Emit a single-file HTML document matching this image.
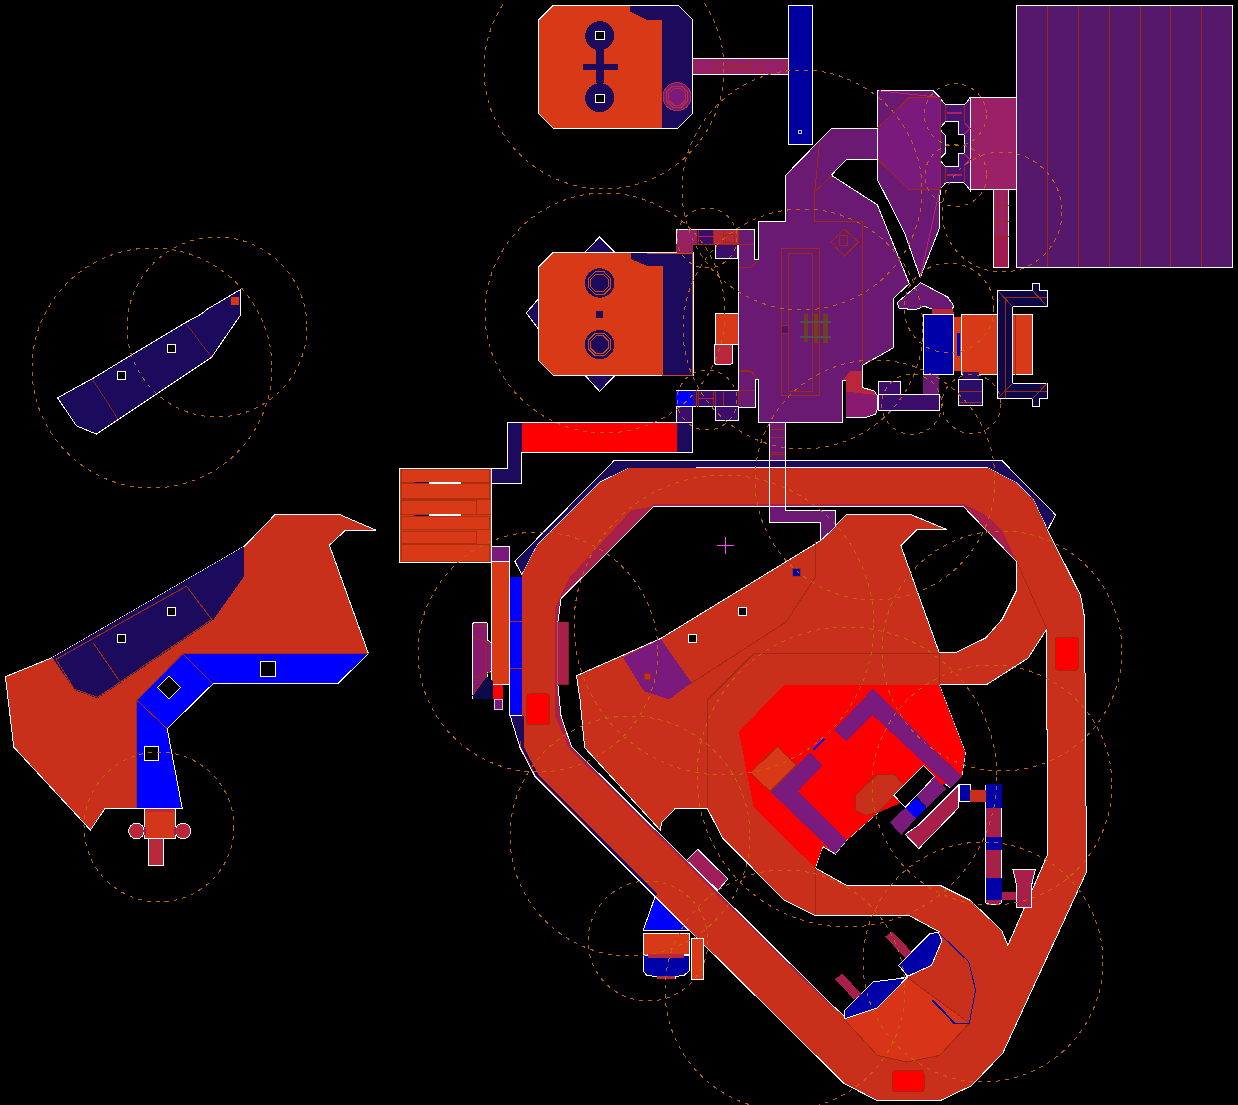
<!DOCTYPE html>
<html><head><meta charset="utf-8">
<style>
html,body{margin:0;padding:0;background:#000;width:1238px;height:1105px;overflow:hidden}
svg{display:block}
</style></head>
<body>
<svg width="1238" height="1105" viewBox="0 0 1238 1105" shape-rendering="crispEdges">
<rect width="1238" height="1105" fill="#000"/>
<!-- ===== LEFT TOP NAVY ===== -->
<g id="lefttop">
<polygon points="57.6,397.8 92.6,378.5 185.3,322.7 200.3,314.6 207.8,308.9 240.4,289.6 240.4,315.2 211.6,357.2 96.4,434.1 76.4,425.8" fill="#1c0b5c" stroke="#fff" stroke-width="1"/>
<line x1="92.6" y1="378.5" x2="118.6" y2="419" stroke="#a02a10" stroke-width="0.8"/>
<line x1="185.3" y1="322.7" x2="211.6" y2="357.2" stroke="#a02a10" stroke-width="0.8"/>
<rect x="117.5" y="371.3" width="8" height="8" fill="#000" stroke="#fff" stroke-width="1"/>
<rect x="167.5" y="344.2" width="8" height="8" fill="#000" stroke="#fff" stroke-width="1"/>
<rect x="231" y="296.6" width="8" height="8" fill="#d4361a"/>
</g>
<!-- ===== LEFT BOTTOM ===== -->
<g id="leftbot">
<polygon points="5.4,676.7 52.5,657.5 244.3,546.3 275.1,514.5 339.5,514.5 375.7,530 345.7,530 329.4,545.2 368.5,653.8 337.4,683.9 212.9,683.9 167.2,728.8 182.1,807.7 105,808.4 90.5,830.1 13.8,747.2" fill="#c8301c" stroke="#fff" stroke-width="1"/>
<polygon points="52.5,657.5 244.3,546.3 244.3,576 213.6,619.5 97.7,698.4 74.2,690" fill="#1c0b5c"/>
<polygon points="182.8,653.8 368.5,653.8 337.4,683.9 212.9,683.9 167.2,728.8 182.1,807.7 136.8,807.7 136.8,700.2" fill="#0000ff"/>
<polyline points="368.5,653.8 337.4,683.9 212.9,683.9 167.2,728.8 182.1,807.7" fill="none" stroke="#fff" stroke-width="1"/>
<polyline points="182.8,653.8 368.5,653.8" fill="none" stroke="#a02a10" stroke-width="1"/>
<polyline points="182.8,653.8 136.8,700.2 136.8,807.7" fill="none" stroke="#a02a10" stroke-width="1"/>
<g stroke="#a02a10" stroke-width="1" fill="none">
<line x1="182.8" y1="653.8" x2="212.9" y2="683.9"/><line x1="136.8" y1="700.2" x2="167.2" y2="728.8"/>
<polygon points="56.1,659.3 186.4,586.2 211.8,619.5 97.7,697.3 74.2,689"/>
<line x1="93.4" y1="643" x2="119.5" y2="681"/>
</g>
<rect x="260.5" y="661" width="15" height="15" fill="#000" stroke="#fff" stroke-width="1"/>
<polygon points="169,676 180.5,687.5 169,699 157.5,687.5" fill="#000" stroke="#fff" stroke-width="1"/>
<rect x="144.5" y="746.5" width="14" height="14" fill="#000" stroke="#fff" stroke-width="1"/>
<rect x="117.5" y="634" width="8" height="8" fill="#000" stroke="#fff" stroke-width="1"/>
<rect x="167.5" y="607" width="8" height="8" fill="#000" stroke="#fff" stroke-width="1"/>
<circle cx="136.5" cy="831" r="7.8" fill="#b8283a" stroke="#fff" stroke-width="1"/>
<circle cx="183" cy="831" r="7.8" fill="#b8283a" stroke="#fff" stroke-width="1"/>
<rect x="144.3" y="808.4" width="30.8" height="30" fill="#d4361a" stroke="#fff" stroke-width="1"/>
<rect x="144.8" y="808.9" width="30" height="3" fill="#b8283a"/>
<rect x="143.5" y="827" width="2" height="8" fill="#9a1a70"/><rect x="174" y="827" width="2" height="8" fill="#9a1a70"/>
<rect x="148.4" y="838.5" width="15.2" height="27" fill="#b8283a" stroke="#fff" stroke-width="1"/>
<line x1="136.8" y1="808" x2="182.5" y2="808" stroke="#fff" stroke-width="1"/>
</g>
<!-- ===== ROOM 1 ===== -->
<g id="room1">
<polygon points="538.4,20.3 553.4,5.2 677.8,5.2 692.6,20 692.6,113.7 677.8,128.4 553.4,128.4 538.4,113.4" fill="#d83a18" stroke="#fff" stroke-width="1"/>
<polygon points="630.2,5.7 677.8,5.7 692.1,20 692.1,113.7 677.8,127.9 661.7,127.9 661.7,20 647,20 630.2,11.6" fill="#1c0b5c"/>
<circle cx="599.7" cy="35.7" r="14.5" fill="#1c0b5c"/>
<circle cx="599.7" cy="97.7" r="14.5" fill="#1c0b5c"/>
<rect x="596" y="50" width="7.5" height="33" fill="#1c0b5c"/>
<rect x="582.5" y="64.1" width="35" height="6.3" fill="#1c0b5c"/>
<rect x="595.1" y="31.9" width="8.9" height="8" fill="#000" stroke="#fff" stroke-width="1"/>
<rect x="595.1" y="94.1" width="8.9" height="8" fill="#000" stroke="#fff" stroke-width="1"/>
<circle cx="677" cy="96.7" r="14" fill="#7a1a7c" stroke="#b03040" stroke-width="1"/>
<rect x="692.6" y="58.5" width="95.8" height="16.1" fill="#962068" stroke="#fff" stroke-width="1"/>
<rect x="788.4" y="5.2" width="24.3" height="139.3" fill="#0000a0" stroke="#fff" stroke-width="1"/>
<rect x="798.5" y="130.5" width="3" height="3" fill="none" stroke="#fff" stroke-width="0.8"/>
<g stroke="#a02a10" stroke-width="1" fill="none"><line x1="693.5" y1="59" x2="693.5" y2="74"/><line x1="715" y1="59" x2="715" y2="74"/><line x1="727.3" y1="59" x2="727.3" y2="74"/><line x1="750.6" y1="59" x2="750.6" y2="74"/><line x1="761.6" y1="59" x2="761.6" y2="74"/><line x1="787" y1="59" x2="787" y2="74"/><rect x="731.4" y="64.5" width="15" height="4"/></g>
</g>
<!-- ===== ROOM 2 ===== -->
<g id="room2">
<polygon points="585.2,252.1 599.6,236.9 614.8,252.1" fill="#1c0b5c" stroke="#fff" stroke-width="1"/>
<polygon points="585.2,375.5 599.6,391.4 614.8,375.5" fill="#1c0b5c" stroke="#fff" stroke-width="1"/>
<polygon points="538.3,299 526.4,312.9 538.3,328.9" fill="#1c0b5c" stroke="#fff" stroke-width="1"/>
<polygon points="538.3,267.3 553.5,252.1 693.6,252.1 693.6,375.5 553.5,375.5 538.3,360.3" fill="#d83a18" stroke="#fff" stroke-width="1"/>
<polygon points="630.8,252.6 693.1,252.6 693.1,375 662.4,375 662.4,266 647.2,266 630.8,258.9" fill="#1c0b5c"/>
<circle cx="599.6" cy="283" r="14.7" fill="#1c0b5c"/>
<circle cx="599.6" cy="344.6" r="14.7" fill="#1c0b5c"/>
<rect x="596" y="310.6" width="7.4" height="7.4" fill="#1c0b5c"/>
<g fill="none" stroke="#c84a20" stroke-width="1">
<polygon points="610.7,287.6 604.2,294.1 595.0,294.1 588.5,287.6 588.5,278.4 595.0,271.9 604.2,271.9 610.7,278.4"/><polygon points="608.4,286.6 603.2,291.8 596.0,291.8 590.8,286.6 590.8,279.4 596.0,274.2 603.2,274.2 608.4,279.4"/>
<polygon points="610.7,349.2 604.2,355.7 595.0,355.7 588.5,349.2 588.5,340.0 595.0,333.5 604.2,333.5 610.7,340.0"/><polygon points="608.4,348.2 603.2,353.4 596.0,353.4 590.8,348.2 590.8,341.0 596.0,335.8 603.2,335.8 608.4,341.0"/>
<polyline points="662.4,266 662.4,375 692,375 692,253 647,253"/>
</g>
<g fill="none" stroke="#b03040" stroke-width="1">
<polygon points="687.6,101.1 681.4,107.3 672.6,107.3 666.4,101.1 666.4,92.3 672.6,86.1 681.4,86.1 687.6,92.3"/><polygon points="685.3,100.1 680.4,105.0 673.6,105.0 668.7,100.1 668.7,93.3 673.6,88.4 680.4,88.4 685.3,93.3"/>
</g>
<polygon points="507.4,422.6 692.3,422.6 692.3,452.3 521.8,452.3 521.8,483.5 491,483.5 491,468.1 507.4,468.1" fill="#1c0b5c" stroke="#fff" stroke-width="1"/>
<rect x="521.8" y="422.6" width="155.3" height="29.7" fill="#ff0000"/>
<rect x="677.1" y="391.4" width="15.2" height="31.2" fill="#1c0b5c" stroke="#fff" stroke-width="1"/>
<rect x="677.1" y="391.4" width="15.2" height="14.7" fill="#0000ff"/>
</g>

<!-- ===== MAIN PURPLE ===== -->
<g id="purple">
<polygon points="1016.3,5.2 1232.5,5.2 1232.5,267.2 1016.3,267.2" fill="#55186a" stroke="#fff" stroke-width="1"/>
<g stroke="#a02a10" stroke-width="1">
<line x1="1047.5" y1="5.5" x2="1047.5" y2="267"/><line x1="1078.6" y1="5.5" x2="1078.6" y2="267"/>
<line x1="1109.8" y1="5.5" x2="1109.8" y2="267"/><line x1="1140.3" y1="5.5" x2="1140.3" y2="267"/>
<line x1="1170.8" y1="5.5" x2="1170.8" y2="267"/><line x1="1201.4" y1="5.5" x2="1201.4" y2="267"/>
</g>
<rect x="993.4" y="188.7" width="15.3" height="78.5" fill="#9a2068" stroke="#fff" stroke-width="1"/>
<rect x="994" y="236.7" width="14.2" height="30" fill="#a01858"/>
<g stroke="#a02a10" stroke-width="1"><line x1="997.5" y1="189" x2="997.5" y2="267"/><line x1="1005.5" y1="189" x2="1005.5" y2="267"/>
<line x1="993.5" y1="189.5" x2="1008.5" y2="189.5"/><line x1="993.5" y1="205.5" x2="1008.5" y2="205.5"/><line x1="993.5" y1="221.5" x2="1008.5" y2="221.5"/><line x1="993.5" y1="236.5" x2="1008.5" y2="236.5"/></g>
<rect x="969.9" y="97.7" width="46.4" height="92.2" fill="#9a2068" stroke="#fff" stroke-width="1"/>
<polygon points="939.4,97.5 945.6,104.8 964.4,104.8 970.1,98 970.1,190.2 964.4,182.9 945.6,182.9 939.4,190.2" fill="#4a1470" stroke="#fff" stroke-width="1"/>
<line x1="945.6" y1="105" x2="945.6" y2="121.5" stroke="#a02a10"/><line x1="964.4" y1="105" x2="964.4" y2="121.5" stroke="#a02a10"/>
<line x1="947" y1="113" x2="962" y2="113" stroke="#b02060" stroke-width="1.2"/>
<line x1="945.6" y1="167" x2="945.6" y2="182.9" stroke="#a02a10"/><line x1="964.4" y1="167" x2="964.4" y2="182.9" stroke="#a02a10"/>
<line x1="947" y1="175" x2="962" y2="175" stroke="#b02060" stroke-width="1.2"/>
<polygon points="945.6,121.5 958.1,121.5 958.1,134.5 964.4,134.5 964.4,153.3 958.1,153.3 958.1,166.8 945.6,166.8 939.4,159.5 945.6,152.7 945.6,136 939.4,128.75" fill="#000" stroke="#fff" stroke-width="1"/>
<polyline points="964.4,123 970.1,128.75 964.4,134.5" fill="none" stroke="#b02060" stroke-width="1.5"/>
<polyline points="964.4,153.5 970.1,159.5 964.4,165.5" fill="none" stroke="#b02060" stroke-width="1.5"/>

<polygon points="877.3,90.4 933.1,90.4 940,97.7 940,195.1 939.6,227.8 920.2,277.5 904.5,232.7 877.3,179.4" fill="#6a1a72" stroke="#fff" stroke-width="1"/>
<polygon points="908.9,97.7 940,97.7 940,189.9 908.9,189.9 877.4,158.8 877.4,128.2" fill="#7a1a7c" stroke="#a02a10" stroke-width="1"/>
<line x1="879" y1="90.8" x2="938" y2="97.2" stroke="#c02070" stroke-width="1"/>
<polygon points="738.7,229.2 754.3,229.2 754.3,259.3 758.6,259.3 758.6,221.8 785.7,221.8 785.7,175.2 831.3,128.5 877.3,128.5 877.3,159.5 846.3,159.5 831.3,175.2 877.3,204.8 909.3,283.6 893.1,298.7 893.1,348 862.5,365.3 862.5,380 842,380 842,422.1 758.4,422.1 758.4,379.6 755,379.6 755,407.3 738.7,407.3" fill="#6a1a72" stroke="#fff" stroke-width="1"/>
<g stroke="#a02a10" stroke-width="1" fill="none">
<polyline points="819.7,140.6 814.8,191.5 814.8,221.8 862,221.8 862,364.8"/>
<line x1="814.8" y1="191.5" x2="831.8" y2="175.7"/>
<polygon points="831.2,242 844.2,229.1 858.7,242 844.2,256.5"/>
<rect x="839.5" y="235.5" width="8" height="9.5"/>
<polyline points="739.2,267.9 750,267.9 757,261.4"/>
<polyline points="739.2,370.8 750.5,370.8 758,379.3"/>
</g>
<line x1="939.6" y1="190.3" x2="920.2" y2="277.5" stroke="#c02070" stroke-width="1"/>
<rect x="676.4" y="229.2" width="62.3" height="15.2" fill="#962068" stroke="#fff" stroke-width="1"/>
<rect x="696.3" y="229.7" width="18.1" height="14.2" fill="#3a0e6a"/>
<rect x="714.4" y="229.7" width="23.7" height="14.2" fill="#b8283a"/>
<rect x="676.4" y="244.4" width="16.1" height="7.6" fill="#962068"/>
<rect x="715.3" y="244.4" width="21.9" height="13.9" fill="#3a0e6a" stroke="#fff" stroke-width="1"/>
<g stroke="#a02a10" stroke-width="1" fill="none">
<line x1="696.8" y1="229.5" x2="696.8" y2="244"/><line x1="698.3" y1="229.5" x2="698.3" y2="244"/><line x1="713.3" y1="229.5" x2="713.3" y2="244"/><line x1="723.5" y1="229.5" x2="723.5" y2="244"/><line x1="738.5" y1="229.5" x2="738.5" y2="244"/>
<line x1="676.5" y1="244.1" x2="754" y2="244.1"/>
<rect x="725.4" y="234.4" width="9.2" height="8.2"/>
<line x1="676.5" y1="252.3" x2="692.5" y2="252.3"/>
</g>
<line x1="698.5" y1="236.8" x2="713" y2="236.8" stroke="#b02060" stroke-width="1.2"/>
<rect x="715.3" y="313.8" width="23.4" height="30.4" fill="#d83a18" stroke="#fff" stroke-width="1"/>
<rect x="714" y="344.2" width="18.4" height="19.9" rx="2" fill="#b8283a" stroke="#fff" stroke-width="1"/>
<rect x="676.4" y="390.7" width="62.3" height="16.2" fill="#3a0e6a" stroke="#fff" stroke-width="1"/>
<g stroke="#a02a10" stroke-width="1" fill="none">
<line x1="692.8" y1="391" x2="692.8" y2="406.5"/><line x1="696.2" y1="391" x2="696.2" y2="406.5"/><line x1="698.4" y1="391" x2="698.4" y2="406.5"/>
<line x1="713.2" y1="391" x2="713.2" y2="406.5"/><line x1="715.4" y1="391" x2="715.4" y2="406.5"/><line x1="723.3" y1="391" x2="723.3" y2="406.5"/>
<line x1="738.5" y1="391" x2="738.5" y2="406.5"/>
<polyline points="738.7,371 750.5,371 758.4,379.6"/>
<polyline points="738.7,391 755,390"/>
</g>
<line x1="698.5" y1="398.8" x2="713" y2="398.8" stroke="#b02060" stroke-width="1.2"/>
<rect x="676.4" y="390.7" width="16.1" height="16.2" fill="#0000ff"/>
<rect x="676.4" y="406.9" width="16.1" height="15.7" fill="#3a0e6a" stroke="#fff" stroke-width="1"/>
<rect x="715.3" y="406.9" width="22.8" height="13.3" fill="#3a0e6a" stroke="#fff" stroke-width="1"/>
<polygon points="897.1,302.6 920.6,282.7 947.8,297.2 954,306.2 951,310 932.6,309.3 924.3,306.2 915.2,309.9 898.9,308" fill="#6a1a72" stroke="#fff" stroke-width="1"/>
<polygon points="932.4,308.8 953,309.5 954.1,314.6 932.4,314.6" fill="#b8283a"/>
<rect x="923.3" y="314.6" width="30.6" height="60" fill="#0000a8" stroke="#fff" stroke-width="1"/>
<rect x="953.9" y="317.3" width="8" height="53.3" fill="#d83a18"/>
<rect x="961.9" y="314.6" width="70.6" height="60" fill="#d83a18" stroke="#fff" stroke-width="1"/>
<rect x="956.6" y="333.3" width="3.4" height="22.7" fill="#0000cc"/>
<polygon points="997.9,290.7 1032.5,290.7 1032.5,283.5 1039.2,283.5 1039.2,290.7 1047.2,290.7 1047.2,306.6 1012.6,306.6 1012.6,383.2 1047.2,383.2 1047.2,398.6 1039.2,398.6 1039.2,406.1 1032.5,406.1 1032.5,398.6 997.9,398.6" fill="#0c0848" stroke="#fff" stroke-width="1"/>
<g stroke="#a02a10" stroke-width="1" fill="none"><polyline points="1005,398 1005,297.5 1047,297.5"/><polyline points="1005,391 1047,391"/><line x1="998" y1="291" x2="1012.6" y2="306.6"/><line x1="1032.5" y1="290.7" x2="1047" y2="306"/><line x1="998" y1="398" x2="1012.6" y2="383.2"/><line x1="1032.5" y1="398.6" x2="1047" y2="383.5"/><line x1="1015.5" y1="314.6" x2="1015.5" y2="374.6"/></g>
<rect x="963.2" y="372.2" width="15.3" height="7.2" fill="#2a0e6a"/>
<rect x="958.6" y="379.4" width="23.6" height="26.3" fill="#2a0e6a" stroke="#fff" stroke-width="1"/>
<g stroke="#a02a10" stroke-width="1"><line x1="959" y1="391.5" x2="982" y2="391.5"/><line x1="959" y1="402.5" x2="982" y2="402.5"/></g>
<rect x="923.3" y="374.6" width="15.9" height="20" fill="#6a1a72"/>
<rect x="878" y="394.6" width="61.2" height="16" fill="#3a0e6a" stroke="#fff" stroke-width="1"/>
<rect x="878" y="381.3" width="22.6" height="13.3" fill="#3a0e6a" stroke="#fff" stroke-width="1"/>
<polygon points="843.1,379.4 850.4,371.2 862.1,371.2 862.1,387.5 874,390.8 877,395.1 877,409.8 875.6,414.1 864.2,417.9 846.3,417.9 846.3,380" fill="#8a1a70"/>
<polygon points="843.1,379.4 850.4,371.2 862.1,371.2 862.1,387.5 874,390.8 877,395.1 846.3,391.5 846.3,380" fill="#b8283a"/>
<polyline points="862.1,366 862.1,387.5 874,390.8 877,395.1 877,409.8 875.6,414.1 864.2,417.9 846.3,417.9" fill="none" stroke="#fff" stroke-width="1"/>
<g stroke="#a02a10" stroke-width="1" fill="none">
<polyline points="781.3,395 781.3,248.3 819.3,248.3 819.3,395 781.3,395"/>
<polyline points="788.5,391.3 788.5,253 812,253 812,391.3 788.5,391.3"/>
<line x1="781.3" y1="325.5" x2="788.5" y2="325.5"/><line x1="781.3" y1="333.5" x2="788.5" y2="333.5"/>
<line x1="812" y1="325" x2="819.3" y2="325"/><line x1="812" y1="333.5" x2="819.3" y2="333.5"/>
</g>
<rect x="782" y="326" width="6" height="7" fill="#4a1470"/>
<g fill="#6a4020"><rect x="803.5" y="314" width="4.5" height="28"/><rect x="813.5" y="314" width="4.5" height="29"/><rect x="823" y="314" width="4.5" height="29"/></g>
<g fill="#505050"><rect x="800" y="320.5" width="31" height="2"/><rect x="800" y="335.5" width="31" height="2"/></g>
</g>
<!-- ===== LOOP ===== -->
<g id="loop">
<polygon points="514.8,561.2 614.4,460.3 1001.8,460.4 1055.6,514.9 1047.6,530.1 1033,498.9 1016.3,482.9 987.2,467.6 628.5,468.1 600.4,482.1 537.3,545.2 521.9,574.7" fill="#1c0b5c" stroke="#fff" stroke-width="1"/>
<polygon points="509.5,715.5 522,715.5 522,747.6 537,776.4 657,897 655.3,896.6 535,776.4 520,747.6" fill="#1c0b5c"/>
<polygon points="521.9,574.7 537.3,545.2 600.4,482.1 628.5,468.1 987.2,467.6 1016.3,482.9 1033,498.9 1047.6,530.1 1080.6,595.5 1084.6,617.7 1086.5,872 1002.8,1053.1 971.5,1085.7 940.5,1100.5 877,1100.5 844.1,1083.5 535,776.4 520,747.6 522,722" fill="#c8301c"/>
<polyline points="1047.6,530.1 1080.6,595.5 1084.6,617.7 1086.5,872 1002.8,1053.1 971.5,1085.7 940.5,1100.5 877,1100.5 844.1,1083.5 655.3,896.6" fill="none" stroke="#fff" stroke-width="1"/>
<polyline points="522.5,716 522.5,747 537,775 656.7,895.2" fill="none" stroke="#1c0b5c" stroke-width="2.5"/>
<polyline points="510,715 520,747.6 535,776.4 655.3,896.6" fill="none" stroke="#fff" stroke-width="1"/>
<polygon points="631.3,510.1 653.7,506.5 561.1,598.5 557.8,622.4 557.8,684 561.1,716.3 571.4,746.3 831.3,1004.3 829.9,1005.6 569,748.3 555,716 555,608.3 569.5,577.5" fill="#a8204a"/>
<polygon points="962.5,506.2 963.2,503.8 985.8,514.9 1001.8,530.1 1016.3,560.7" fill="#a8204a"/>
<rect x="653" y="504" width="310" height="2.5" fill="#a8204a"/>
<polygon points="653.7,506.5 963.5,506.6 1016,561.2 1016,591.5 1001.9,619.7 985.7,637.9 955.4,652.8 939.3,652.8 900.9,545.8 917,529.7 947.3,529.7 911,514.7 846.4,514.7 819.6,541.2 660.3,638.7 576.5,675.8 580.1,700 584.6,747.6 660.3,830.2 661.5,822.7 675.3,808.4 707.3,808.4 722.4,837.7 784.2,900.3 815,915.4 908.9,915.4 939,931.7 932.7,934.2 898.9,965.5 907.7,976.7 881.4,981.7 843.8,1015.6 831.3,1004.3 571.4,746.3 561.1,716.3 557.8,684 557.8,622.4 561.1,598.5" fill="#000" stroke="#fff" stroke-width="1"/>
<polygon points="939.1,684.6 986.7,684.6 1028.1,658.1 1046.3,629.8 1047.9,854 1007.9,945.4 1001.6,930.4 970.3,900.4 940.2,885.3 846.3,885.3 815.2,867.9 822.7,846.6 835.2,854.1 846.5,840.3 877.8,812.8 895.3,796.5 924.1,766.5 935.4,777.7 950.4,787.7 961.7,776.5 965.4,752.7" fill="#000" stroke="#fff" stroke-width="1"/>
<g id="sectorlines" stroke="#a02a10" stroke-width="1" fill="none">
<polyline points="815.4,541 815.4,577.5 785.6,622.3 690,684"/>
<polyline points="707.5,807.8 707.5,700.1 753.8,653.8 939.1,653.8 939.1,684.6"/>
<line x1="815.2" y1="867.9" x2="815.2" y2="915.4"/>
<line x1="1017" y1="562.4" x2="1047.2" y2="629.7"/>
<polyline points="660.3,638.7 690.5,684"/>
</g>
<polygon points="785.1,684.6 939.1,684.6 965.4,752.7 961.7,776.5 877.8,812.8 846.5,840.3 822.7,846.6 815.2,867.9 753.8,807.8 738.8,731.4" fill="#ff0000"/>
<polygon points="834,730.1 872.8,688.8 961.7,776.5 950.4,787.7 872.8,715.1 846.5,741.4" fill="#7a1a7c"/>
<polygon points="810.2,752.7 822.7,765.2 797.7,791.5 846.5,840.3 835.2,854.1 770.1,791.5" fill="#7a1a7c"/>
<polygon points="750.1,772.7 777.6,746.4 796.4,765.2 770.1,791.5" fill="#d83a18" stroke="#a02a10" stroke-width="1"/>
<polygon points="855.3,795.3 877.8,774 894.1,774 904.1,785.2 877.8,812.8 865.3,815.3 855.3,810.3" fill="#c8301c" stroke="#a02a10" stroke-width="1"/>
<line x1="813" y1="750" x2="824" y2="739" stroke="#0000ff" stroke-width="1.5"/>

<g id="lstruct">
<polygon points="893.9,795.4 923.3,765.4 934.6,776.8 905.2,807.3" fill="#000" stroke="#fff" stroke-width="1"/>
<polygon points="916.5,796 934.6,777.3 946.5,788.6 926.7,807.8" fill="#7a1a7c"/>
<polygon points="905.2,807.9 916,797.1 926.7,807.8 916,818" fill="#0000ff"/>
<polygon points="890,822.6 905.2,807.9 916,818 901.3,835" fill="#7a1a7c"/>
<polygon points="918.8,824.8 958.4,785.2 958.4,807.8 918.8,848.6 905.2,834.4" fill="#a8204a" stroke="#fff" stroke-width="1"/>
</g>
<polygon points="843.7,1018.9 907.6,977.7 969.4,1023 939.9,1055.3 906.9,1062.1 877.4,1055.3" fill="#d83518" stroke="#a02a10" stroke-width="1"/>
<polyline points="938.5,932.4 968.7,961.9 975.6,990 969.4,1023 954.3,1023" fill="none" stroke="#0000a8" stroke-width="1"/>
<line x1="932.3" y1="1000.3" x2="954.3" y2="1023" stroke="#0000a8" stroke-width="2"/>
<polygon points="898.7,965.3 929.6,933.7 938.5,932.4 941.9,940.6 931.6,965.3 907.6,976.3" fill="#0000a8" stroke="#fff" stroke-width="1"/>
<polygon points="844.4,1018.9 844.4,1010.6 873.3,981.8 906.9,977.7 877.4,1007.9" fill="#0000a8" stroke="#fff" stroke-width="1"/>
<polygon points="885.2,936.7 892.7,931.7 911.4,951.7 905.2,958" fill="#a8204a"/>
<polygon points="835.1,979.2 842.6,973.7 861.4,994.3 853.9,999.3" fill="#a8204a"/>
<rect x="892.7" y="1070.6" width="31.3" height="21.3" rx="3" fill="#ff0000" stroke="#a02a10" stroke-width="1"/>
<rect x="1055.6" y="637.1" width="23" height="33.1" rx="3" fill="#ff0000" stroke="#a02a10" stroke-width="1"/>
<rect x="526.9" y="693.9" width="22.5" height="30.9" rx="3" fill="#ff0000" stroke="#a02a10" stroke-width="1"/>
<rect x="557.8" y="622.4" width="10.3" height="61.6" fill="#a8204a" stroke="#a02a10" stroke-width="0.8"/>
<polygon points="686.5,860.3 697.8,849.5 727.9,879 717.9,890.3" fill="#a01e5a" stroke="#fff" stroke-width="1"/>
<polygon points="655,897 689,930.8 643,930.8" fill="#0000ff" stroke="#fff" stroke-width="1"/>
<rect x="643" y="933" width="46" height="21" fill="#d83a18" stroke="#fff" stroke-width="1"/>
<path d="M643,955 L689,955 L689,971 L684,975.5 L675,976.5 L675,978.5 L657,978.5 L657,976.5 L647,975.5 L643,971 Z" fill="#0000a8" stroke="#fff" stroke-width="1"/>
<rect x="648" y="954" width="36" height="4" fill="#b8283a"/>
<rect x="657" y="976" width="18" height="2.5" fill="#b8283a"/>
<rect x="691.4" y="938" width="12.2" height="41" fill="#d83a18" stroke="#fff" stroke-width="1"/>
<rect x="985.5" y="784" width="16.2" height="120" rx="3" fill="#a8204a" stroke="#fff" stroke-width="1"/>
<rect x="985.5" y="784" width="16.2" height="23.8" fill="#0000a8"/>
<rect x="985.5" y="836.6" width="16.2" height="13.7" fill="#0000a8"/>
<rect x="985.5" y="877.9" width="16.2" height="22.5" fill="#0000a8"/>
<rect x="959.2" y="784.7" width="11.2" height="16.8" fill="#0000a8" stroke="#fff" stroke-width="1"/>
<rect x="970.4" y="790.2" width="15.1" height="11.3" fill="#c8301c"/>
<rect x="1001.6" y="891.6" width="15" height="8.8" fill="#a8204a"/>
<polygon points="1012.9,869 1035.4,869 1031.6,885.3 1031.6,907.9 1016.6,907.9 1016.6,885.3" fill="#a8204a" stroke="#fff" stroke-width="1"/>
<polygon points="769.5,422.1 785.4,422.1 785.4,460.3 769.5,460.3" fill="#6a1a72" stroke="#fff" stroke-width="1"/>
<g stroke="#a02a10" stroke-width="1"><line x1="770" y1="429.4" x2="785" y2="429.4"/><line x1="770" y1="437.5" x2="785" y2="437.5"/><line x1="770" y1="452.6" x2="785" y2="452.6"/><line x1="770" y1="454.6" x2="785" y2="454.6"/></g>
<line x1="769.5" y1="460" x2="769.5" y2="506.6" stroke="#fff"/><line x1="785.4" y1="460" x2="785.4" y2="510.7" stroke="#fff"/>
<polygon points="769.6,506.6 769.6,522.8 820.1,522.8 820.1,541 835.5,526.8 835.5,510.7 785,510.7 785,506.6" fill="#6a1a72" stroke="#fff" stroke-width="1"/>
<polygon points="622.9,657.4 660.7,639.2 691.6,682.7 669.1,699.5 643.9,691.1" fill="#7a1a7c"/>
<rect x="644" y="673" width="6" height="6" fill="#c8301c" stroke="#a02a10"/>
<rect x="688.1" y="634.7" width="8" height="8" fill="#000" stroke="#fff"/>
<rect x="738.2" y="607.6" width="8" height="8" fill="#000" stroke="#fff"/>
<rect x="792.7" y="568.5" width="8" height="8" fill="#0000a8" stroke="#a02a10"/>
</g>
<!-- ===== LEFT OF LOOP ===== --><g id="leftloop">
<rect x="399.8" y="468.1" width="91.2" height="93.9" fill="#d83a18" stroke="#fff" stroke-width="1"/>
<rect x="491.6" y="546" width="17.6" height="15.2" fill="#7a1a7c" stroke="#fff" stroke-width="1"/>
<rect x="491.6" y="561.2" width="17.6" height="122.8" fill="#d83a18" stroke="#fff" stroke-width="1"/>
<rect x="510" y="577" width="11.9" height="138.5" fill="#0000ff"/>
<polyline points="509.5,684 509.5,715.5 521.9,715.5" fill="none" stroke="#fff" stroke-width="1"/>
<g stroke="#a8300e" stroke-width="1.2"><line x1="510" y1="621.2" x2="522" y2="621.2"/><line x1="510" y1="668.4" x2="522" y2="668.4"/></g>
<rect x="492.6" y="684.5" width="10.8" height="14.3" fill="#ff0000"/>
<rect x="494.4" y="699.5" width="7.8" height="9.8" fill="#7a1a7c" stroke="#fff" stroke-width="0.8"/>
<polygon points="472.5,624 474,622.3 486,622.3 487.7,624 487.7,640.2 491.5,642.9 491.5,671.6 487.7,672.7 487.7,687.9 492.6,687.9 492.6,698.8 472.5,698.8" fill="#8a1a70" stroke="#fff" stroke-width="1"/>
<polygon points="472.5,695.5 486.6,676 492.6,681.4 492.6,698.8 472.5,698.8" fill="#0c0a48"/>
<g stroke="#a02a10" stroke-width="1" fill="none"><polyline points="473,626 487,626"/><polyline points="473,637 486,642 491,645"/><polyline points="485,642 485,673"/><polyline points="473,678 491,672"/><line x1="472.5" y1="695.5" x2="486.6" y2="676"/></g>
</g>

<g id="stairs" stroke="#a8300e" stroke-width="1.2" fill="none">
<rect x="401.5" y="469.5" width="88" height="13"/>
<rect x="401.5" y="483.6" width="88" height="15.3"/>
<rect x="401.5" y="500.4" width="75" height="14.2"/>
<rect x="401.5" y="516.2" width="88" height="13.1"/>
<rect x="401.5" y="531.4" width="75" height="12.1"/>
<rect x="401.5" y="544.5" width="88" height="16.8"/>
<line x1="399.5" y1="482.8" x2="491" y2="482.8"/>
<line x1="399.5" y1="514.8" x2="491" y2="514.8"/>
</g>
<line x1="414.4" y1="482.6" x2="429.1" y2="482.6" stroke="#1c0b5c" stroke-width="1.5"/>
<line x1="429.1" y1="482.6" x2="460.6" y2="482.6" stroke="#fff" stroke-width="2"/>
<line x1="414.4" y1="515.3" x2="429.1" y2="515.3" stroke="#1c0b5c" stroke-width="1.5"/>
<line x1="429.1" y1="515.3" x2="460.6" y2="515.3" stroke="#fff" stroke-width="2"/>
<g stroke="#ff40ff" stroke-width="1"><line x1="717" y1="545.5" x2="734" y2="545.5"/><line x1="725.5" y1="537" x2="725.5" y2="554"/></g>

<g id="circles" fill="none" stroke="#c0640c" stroke-width="1" stroke-dasharray="4 5" shape-rendering="crispEdges">
<circle cx="604" cy="69" r="120"/>
<circle cx="605" cy="313" r="120"/>
<circle cx="152" cy="368" r="120"/>
<circle cx="217" cy="327" r="90"/>
<circle cx="159" cy="827" r="75"/>
<circle cx="538" cy="652" r="120"/>
<circle cx="707" cy="238" r="30"/>
<circle cx="707" cy="400" r="30"/>
<circle cx="1002" cy="651" r="120"/>
<circle cx="983" cy="962" r="120"/>
<circle cx="802" cy="190" r="120"/>
<circle cx="803" cy="329" r="120"/>
<circle cx="955.4" cy="114.8" r="31"/>
<circle cx="956" cy="175.4" r="31"/>
<circle cx="1002" cy="212" r="60"/>
<circle cx="949" cy="308" r="45"/>
<circle cx="911.7" cy="404.3" r="30"/>
<circle cx="971.5" cy="404" r="29.5"/>
<circle cx="630" cy="836" r="120"/>
<circle cx="724" cy="625" r="150"/>
<circle cx="875" cy="480" r="120"/>
<circle cx="847" cy="777" r="150"/>
<circle cx="648" cy="941" r="60"/>
<circle cx="785" cy="990" r="120"/>
<circle cx="992" cy="785" r="120"/>
</g>
</svg>
</body></html>
